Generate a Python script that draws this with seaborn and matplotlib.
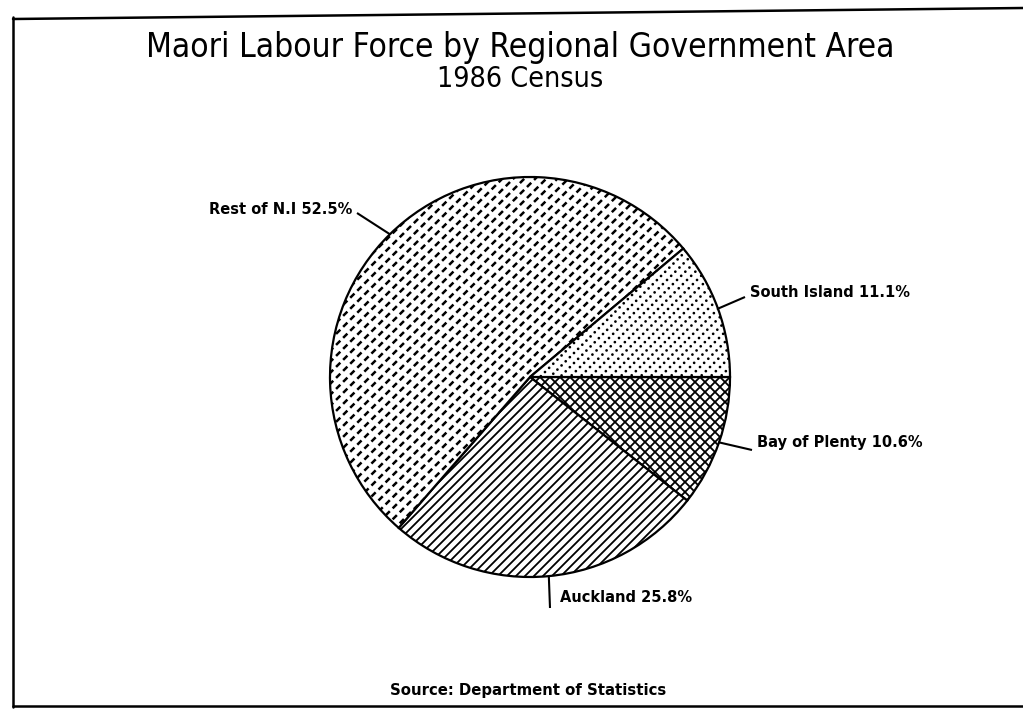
import numpy as np
import matplotlib
matplotlib.use("Agg")
import matplotlib.pyplot as plt
from matplotlib.collections import LineCollection
from matplotlib.lines import Line2D
import seaborn as sns

# Maori labour force shares by regional government area, 1986 Census
regions = ["Bay of Plenty", "Auckland", "Rest of N.I", "South Island"]
shares = [10.6, 25.8, 52.5, 11.1]
label_text = ["Bay of Plenty 10.6%", "Auckland 25.8%", "Rest of N.I 52.5%", "South Island 11.1%"]

title = "Maori Labour Force by Regional Government Area"
subtitle = "1986 Census"
source = "Source: Department of Statistics"

sns.set_style("white")
plt.rcParams["font.family"] = ["DejaVu Sans"]
plt.rcParams["text.color"] = "black"

W, H = 1023, 710
fig = plt.figure(figsize=(W / 100, H / 100), dpi=100)
fig.patch.set_facecolor("white")

# pie centred at (530, 377) px, radius 200 px
cx, cy, r_px = 530, 377, 200
half = 1.3
ax = fig.add_axes([(cx - half * r_px) / W, (H - cy - half * r_px) / H,
                   2 * half * r_px / W, 2 * half * r_px / H])

wedges, _ = ax.pie(shares, startangle=0, counterclock=False,
                   colors=["white"] * 4,
                   wedgeprops=dict(edgecolor="black", linewidth=1.6))
ax.set_xlim(-half, half)
ax.set_ylim(-half, half)
ax.set_aspect("equal")
ax.axis("off")

px = 1.0 / r_px  # one pixel in data units


def diagonal_fill(wedge, spacing, sign=1, **kw):
    offs = np.arange(-2.5, 2.5, spacing)
    segs = [[(-1.5, sign * (-1.5) + c), (1.5, sign * 1.5 + c)] for c in offs]
    lc = LineCollection(segs, colors="black", **kw)
    lc.set_clip_path(wedge)
    ax.add_collection(lc)


# Bay of Plenty: cross-hatch
diagonal_fill(wedges[0], 10 * px, sign=1, linewidths=1.3)
diagonal_fill(wedges[0], 10 * px, sign=-1, linewidths=1.3)
# Auckland: solid diagonal lines
diagonal_fill(wedges[1], 9 * px, linewidths=1.3)
# Rest of N.I: dashed diagonal lines
diagonal_fill(wedges[2], 11 * px, linewidths=1.8, linestyles=[(0, (2.4, 1.6))])
# South Island: dotted diagonal lines
diagonal_fill(wedges[3], 10 * px, linewidths=2.0, linestyles=[(0, (0.01, 2.1))],
              capstyle="round")

# leader lines and labels
leader_end = {"Bay of Plenty": (1.11, -0.365), "Auckland": (0.10, -1.155),
              "Rest of N.I": (-0.865, 0.82), "South Island": (1.075, 0.40)}
text_pos = {"Bay of Plenty": (1.135, -0.33, "left"), "Auckland": (0.15, -1.105, "left"),
            "Rest of N.I": (-0.89, 0.835, "right"), "South Island": (1.10, 0.42, "left")}

for w, name, txt in zip(wedges, regions, label_text):
    mid = np.deg2rad((w.theta1 + w.theta2) / 2)
    x0, y0 = np.cos(mid), np.sin(mid)
    x1, y1 = leader_end[name]
    ax.plot([x0, x1], [y0, y1], color="black", lw=1.5, solid_capstyle="butt")
    tx, ty, ha = text_pos[name]
    ax.text(tx, ty, txt, ha=ha, va="center", fontsize=10.5, fontweight="bold")

# titles and source
fig.text(520 / W, 1 - 47 / H, title, ha="center", va="center", fontsize=24,
         fontstretch="condensed")
fig.text(520 / W, 1 - 79 / H, subtitle, ha="center", va="center", fontsize=20.5,
         fontstretch="condensed")
fig.text(528 / W, 1 - 690 / H, source, ha="center", va="center", fontsize=10.7,
         fontweight="bold")

# page frame
frame = [((13, 19), (1023, 8)), ((13, 17), (13, 707)), ((13, 706), (1023, 706))]
for (xa, ya), (xb, yb) in frame:
    fig.add_artist(Line2D([xa / W, xb / W], [1 - ya / H, 1 - yb / H],
                          color="black", lw=1.8, transform=fig.transFigure))

fig.savefig("out.png", dpi=100, facecolor="white")
